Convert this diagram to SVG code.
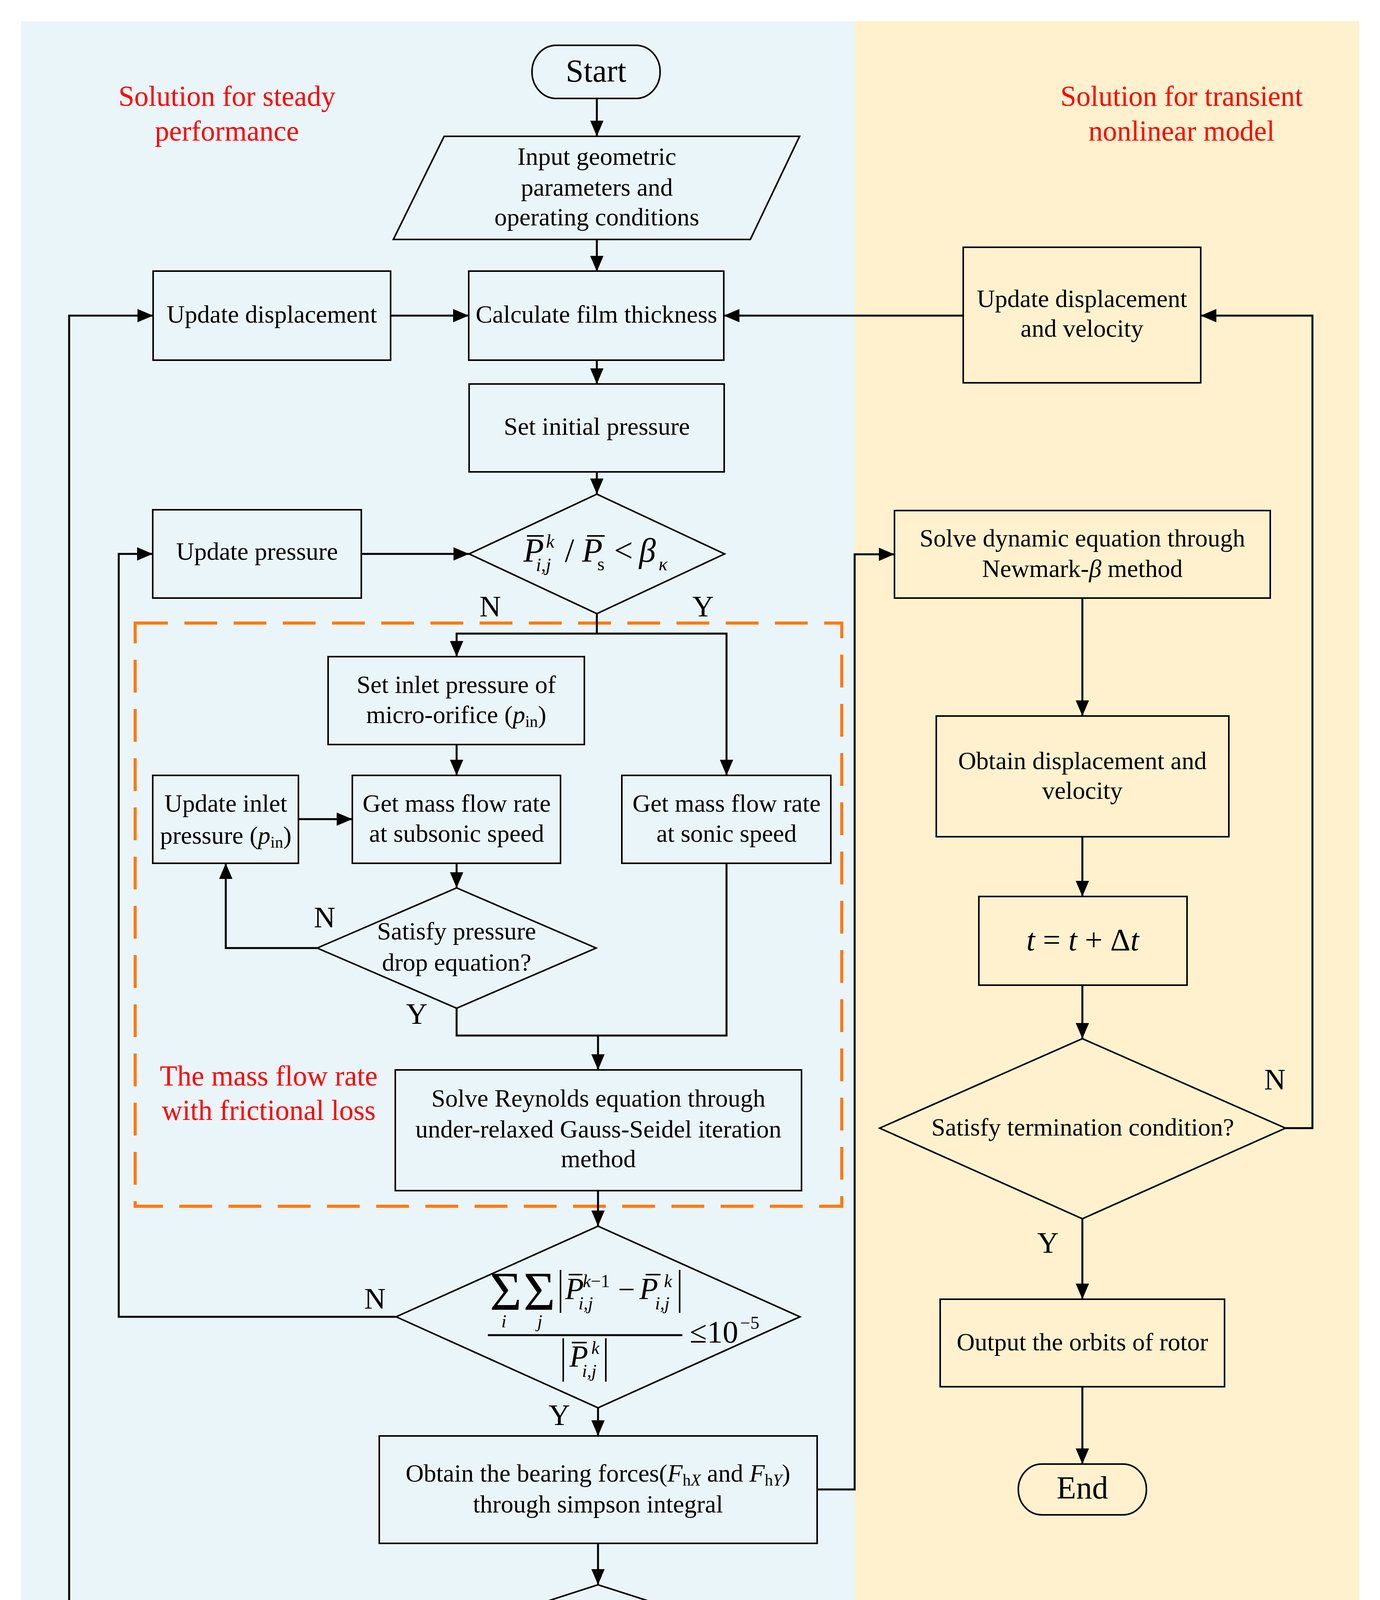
<svg xmlns="http://www.w3.org/2000/svg" width="3533" height="4719" viewBox="0 0 3533 4719">
<style>
text{font-family:"Liberation Serif","Times New Roman",serif;fill:#000}
.t{font-size:64px;text-anchor:middle}
.red{font-size:73px;fill:#FF0000;text-anchor:middle}
.yn{font-size:76px;text-anchor:middle}
.i{font-style:italic}
.box{fill:none;stroke:#000;stroke-width:4}
.c{fill:none;stroke:#000;stroke-width:5;marker-end:url(#arr)}
.cn{fill:none;stroke:#000;stroke-width:5}
.bar{stroke:#000;stroke-width:4}
</style>
<defs>
<marker id="arr" markerUnits="userSpaceOnUse" markerWidth="40" markerHeight="34" refX="40" refY="17" orient="auto">
<path d="M0,0 L40,17 L0,34 z" fill="#000"/>
</marker>
</defs>
<rect x="0" y="0" width="3533" height="4719" fill="#FFFFFF"/>
<rect x="54" y="54" width="2134" height="4618" fill="#EAF5F9"/>
<rect x="2188" y="54" width="1292" height="4618" fill="#FFF1CD"/>

<g id="titles">
<text class="red" x="581" y="271">Solution for steady</text>
<text class="red" x="581" y="360">performance</text>
<text class="red" x="3025" y="271">Solution for transient</text>
<text class="red" x="3025" y="360">nonlinear model</text>
</g>

<g id="dashed-region">
<rect x="346" y="1595" width="1809" height="1493" fill="none" stroke="#FF7A12" stroke-width="8" stroke-dasharray="84 42"/>
<text class="red" x="688" y="2779">The mass flow rate</text>
<text class="red" x="688" y="2867">with frictional loss</text>
</g>

<g id="connectors">
<path class="c" d="M1528,252 V349"/>
<path class="c" d="M1528,613 V695"/>
<path class="c" d="M1528,922 V983"/>
<path class="c" d="M1528,1208 V1265"/>
<path class="c" d="M1000,808 H1200"/>
<path class="c" d="M2466,808 H1853"/>
<path class="c" d="M925,1418 H1201"/>
<path class="cn" d="M1528,1571 V1622"/>
<path class="c" d="M1528,1622 H1169 V1681"/>
<path class="c" d="M1528,1622 H1860 V1985"/>
<path class="c" d="M1169,1906 V1985"/>
<path class="c" d="M764,2097 H902"/>
<path class="c" d="M1169,2210 V2273"/>
<path class="c" d="M812,2427 H578 V2210"/>
<path class="cn" d="M1169,2581 V2651 H1860 V2210"/>
<path class="c" d="M1531,2651 V2739"/>
<path class="c" d="M1531,3048 V3139"/>
<path class="c" d="M1014,3371 H304 V1418 H391"/>
<path class="c" d="M1531,3604 V3676"/>
<path class="c" d="M2092,3813 H2188 V1419 H2290"/>
<path class="c" d="M1531,3951 V4057"/>
<path class="c" d="M1057,4210 H177 V808 H392"/>
<path class="c" d="M1531,4363 V4440"/>
<path class="c" d="M2771,1531 V1833"/>
<path class="c" d="M2771,2142 V2295"/>
<path class="c" d="M2771,2522 V2659"/>
<path class="c" d="M3291,2888 H3360 V808 H3074"/>
<path class="c" d="M2771,3120 V3326"/>
<path class="c" d="M2771,3550 V3748"/>
</g>

<g id="start">
<rect class="box" x="1362" y="116" width="328" height="136" rx="62" ry="68"/>
<text class="t" x="1526" y="209" font-size="82" style="font-size:82px">Start</text>
</g>

<g id="input">
<polygon class="box" points="1137,349 2047,349 1921,613 1007,613"/>
<text class="t" x="1528" y="422">Input geometric</text>
<text class="t" x="1528" y="501">parameters and</text>
<text class="t" x="1528" y="577">operating conditions</text>
</g>

<g id="update-displacement">
<rect class="box" x="392" y="694" width="608" height="228"/>
<text class="t" x="696" y="826">Update displacement</text>
</g>

<g id="film-thickness">
<rect class="box" x="1200" y="694" width="653" height="228"/>
<text class="t" x="1527" y="826">Calculate film thickness</text>
</g>

<g id="update-disp-vel">
<rect class="box" x="2466" y="633" width="608" height="347"/>
<text class="t" x="2770" y="786">Update displacement</text>
<text class="t" x="2770" y="862">and velocity</text>
</g>

<g id="initial-pressure">
<rect class="box" x="1201" y="983" width="653" height="225"/>
<text class="t" x="1528" y="1113">Set initial pressure</text>
</g>

<g id="update-pressure">
<rect class="box" x="391" y="1305" width="534" height="226"/>
<text class="t" x="658" y="1433">Update pressure</text>
</g>

<g id="decision-pressure-ratio">
<polygon class="box" points="1201,1418 1528,1265 1855,1418 1528,1571"/>
<text class="i" x="1340" y="1438" style="font-size:86px">P</text>
<line class="bar" x1="1349" y1="1372" x2="1392" y2="1372"/>
<text class="i" x="1398" y="1402" style="font-size:48px">k</text>
<text class="i" x="1372" y="1462" style="font-size:48px">i,j</text>
<text x="1446" y="1438" style="font-size:86px">/</text>
<text class="i" x="1490" y="1438" style="font-size:86px">P</text>
<line class="bar" x1="1503" y1="1372" x2="1548" y2="1372"/>
<text x="1529" y="1460" style="font-size:48px">s</text>
<text x="1572" y="1438" style="font-size:86px">&lt;</text>
<text class="i" x="1636" y="1438" style="font-size:86px">β</text>
<text class="i" x="1686" y="1460" style="font-size:48px">κ</text>
<text class="yn" x="1255" y="1578">N</text>
<text class="yn" x="1800" y="1578">Y</text>
</g>

<g id="set-inlet">
<rect class="box" x="840" y="1681" width="656" height="225"/>
<text class="t" x="1168" y="1774">Set inlet pressure of</text>
<text class="t" x="1168" y="1851">micro-orifice (<tspan class="i">p</tspan><tspan style="font-size:42px" dy="10">in</tspan><tspan dy="-10">)</tspan></text>
</g>

<g id="update-inlet">
<rect class="box" x="391" y="1985" width="373" height="225"/>
<text class="t" x="578" y="2078">Update inlet</text>
<text class="t" x="578" y="2160">pressure (<tspan class="i">p</tspan><tspan style="font-size:42px" dy="10">in</tspan><tspan dy="-10">)</tspan></text>
</g>

<g id="subsonic">
<rect class="box" x="902" y="1985" width="533" height="225"/>
<text class="t" x="1169" y="2078">Get mass flow rate</text>
<text class="t" x="1169" y="2155">at subsonic speed</text>
</g>

<g id="sonic">
<rect class="box" x="1592" y="1985" width="535" height="225"/>
<text class="t" x="1860" y="2078">Get mass flow rate</text>
<text class="t" x="1860" y="2155">at sonic speed</text>
</g>

<g id="decision-pressure-drop">
<polygon class="box" points="812,2427 1169,2273 1526,2427 1169,2581"/>
<text class="t" x="1169" y="2405">Satisfy pressure</text>
<text class="t" x="1169" y="2485">drop equation?</text>
<text class="yn" x="831" y="2374">N</text>
<text class="yn" x="1067" y="2621">Y</text>
</g>

<g id="reynolds">
<rect class="box" x="1012" y="2739" width="1040" height="309"/>
<text class="t" x="1532" y="2833">Solve Reynolds equation through</text>
<text class="t" x="1532" y="2912">under-relaxed Gauss-Seidel iteration</text>
<text class="t" x="1532" y="2988">method</text>
</g>

<g id="decision-convergence">
<polygon class="box" points="1014,3371 1531,3139 2048,3371 1531,3604"/>
<text x="1254" y="3353" style="font-size:140px">Σ</text>
<text x="1340" y="3353" style="font-size:140px">Σ</text>
<text class="i" x="1290" y="3398" style="font-size:46px;text-anchor:middle">i</text>
<text class="i" x="1382" y="3398" style="font-size:46px;text-anchor:middle">j</text>
<line class="bar" x1="1435" y1="3251" x2="1435" y2="3361"/>
<text class="i" x="1447" y="3325" style="font-size:78px">P</text>
<line class="bar" x1="1456" y1="3263" x2="1491" y2="3263"/>
<text class="i" x="1492" y="3295" style="font-size:46px">k<tspan font-style="normal">−1</tspan></text>
<text class="i" x="1481" y="3352" style="font-size:46px">i,j</text>
<text x="1582" y="3327" style="font-size:78px">−</text>
<text class="i" x="1637" y="3325" style="font-size:78px">P</text>
<line class="bar" x1="1653" y1="3263" x2="1691" y2="3263"/>
<text class="i" x="1700" y="3295" style="font-size:46px">k</text>
<text class="i" x="1677" y="3352" style="font-size:46px">i,j</text>
<line class="bar" x1="1740" y1="3251" x2="1740" y2="3361"/>
<line x1="1249" y1="3418" x2="1747" y2="3418" stroke="#000" stroke-width="5"/>
<text x="1766" y="3437" style="font-size:80px">≤10</text>
<text x="1895" y="3402" style="font-size:46px">−5</text>
<line class="bar" x1="1442" y1="3426" x2="1442" y2="3537"/>
<text class="i" x="1458" y="3498" style="font-size:78px">P</text>
<line class="bar" x1="1464" y1="3437" x2="1502" y2="3437"/>
<text class="i" x="1514" y="3466" style="font-size:46px">k</text>
<text class="i" x="1490" y="3525" style="font-size:46px">i,j</text>
<line class="bar" x1="1551" y1="3426" x2="1551" y2="3537"/>
<text class="yn" x="960" y="3350">N</text>
<text class="yn" x="1432" y="3648">Y</text>
</g>

<g id="bearing-forces">
<rect class="box" x="971" y="3676" width="1121" height="275"/>
<text class="t" x="1531" y="3793">Obtain the bearing forces(<tspan class="i">F</tspan><tspan style="font-size:42px" dy="10">h<tspan class="i">X</tspan></tspan><tspan dy="-10"> and </tspan><tspan class="i">F</tspan><tspan style="font-size:42px" dy="10">h<tspan class="i">Y</tspan></tspan><tspan dy="-10">)</tspan></text>
<text class="t" x="1531" y="3872">through simpson integral</text>
</g>

<g id="decision-force-ratio">
<polygon class="box" points="1057,4210 1531,4057 2008,4210 1531,4363"/>
<line class="bar" x1="1235" y1="4150" x2="1235" y2="4267"/>
<text class="i" x="1248" y="4234" style="font-size:95px">F</text>
<text x="1300" y="4259" style="font-size:55px">h<tspan class="i">X</tspan></text>
<text x="1396" y="4234" style="font-size:80px">/</text>
<text class="i" x="1443" y="4234" style="font-size:95px">F</text>
<text x="1497" y="4259" style="font-size:55px">h<tspan class="i">Y</tspan></text>
<line class="bar" x1="1581" y1="4150" x2="1581" y2="4267"/>
<text x="1604" y="4234" style="font-size:95px">≤</text>
<text x="1678" y="4234" style="font-size:95px">10</text>
<text x="1772" y="4196" style="font-size:55px">−4</text>
<text class="yn" x="1007" y="4193">N</text>
<text class="yn" x="1426" y="4422">Y</text>
</g>

<g id="output-steady">
<rect class="box" x="1169" y="4440" width="724" height="225"/>
<text class="t" x="1531" y="4532">Output the steady</text>
<text class="t" x="1531" y="4610">performance</text>
</g>

<g id="solve-dynamic">
<rect class="box" x="2290" y="1307" width="962" height="224"/>
<text class="t" x="2771" y="1399">Solve dynamic equation through</text>
<text class="t" x="2771" y="1477">Newmark-<tspan class="i">β</tspan> method</text>
</g>

<g id="obtain-disp">
<rect class="box" x="2397" y="1833" width="749" height="309"/>
<text class="t" x="2771" y="1969">Obtain displacement and</text>
<text class="t" x="2771" y="2045">velocity</text>
</g>

<g id="time-step">
<rect class="box" x="2506" y="2295" width="533" height="227"/>
<text class="t" x="2772" y="2433" style="font-size:80px"><tspan class="i">t</tspan> = <tspan class="i">t</tspan> + Δ<tspan class="i">t</tspan></text>
</g>

<g id="decision-termination">
<polygon class="box" points="2252,2888 2771,2659 3291,2888 2771,3120"/>
<text class="t" x="2772" y="2907">Satisfy termination condition?</text>
<text class="yn" x="3264" y="2789">N</text>
<text class="yn" x="2683" y="3207">Y</text>
</g>

<g id="output-orbits">
<rect class="box" x="2407" y="3326" width="728" height="224"/>
<text class="t" x="2771" y="3457">Output the orbits of rotor</text>
</g>

<g id="end">
<rect class="box" x="2607" y="3748" width="328" height="130" rx="60" ry="65"/>
<text class="t" x="2771" y="3836" style="font-size:82px">End</text>
</g>
</svg>
